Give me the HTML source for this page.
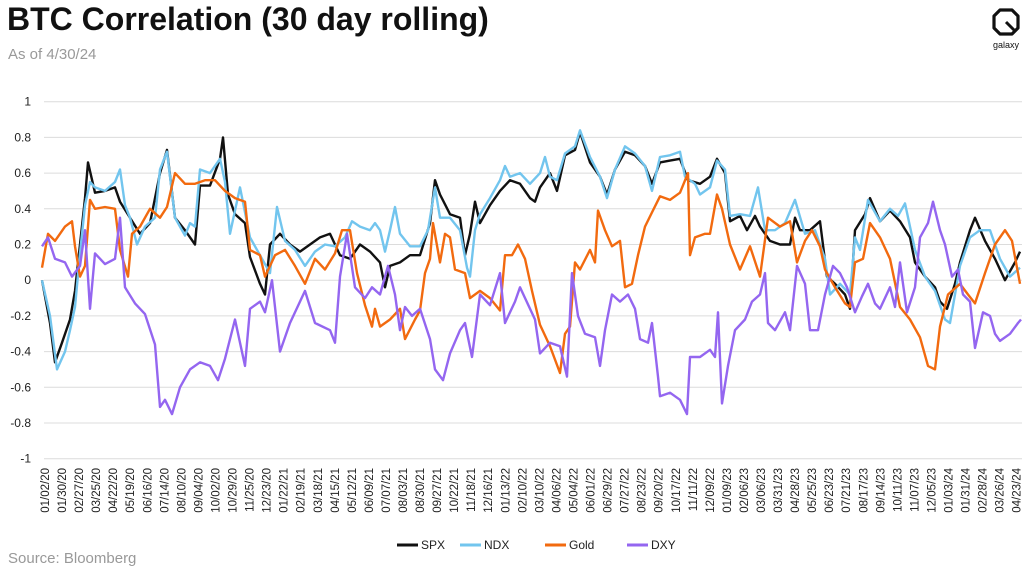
<!DOCTYPE html>
<html><head><meta charset="utf-8"><style>
body{margin:0;background:#fff;width:1024px;height:574px;overflow:hidden;font-family:"Liberation Sans",Arial,sans-serif}
#title{position:absolute;left:7px;top:1px;font-size:32px;font-weight:bold;color:#111;letter-spacing:0px}
#sub{position:absolute;left:8px;top:46px;font-size:15px;color:#999}
#src{position:absolute;left:8px;top:550px;font-size:15px;color:#999}
#logo{position:absolute;left:990px;top:6px;width:32px;height:48px}
svg text{font-family:"Liberation Sans",Arial,sans-serif}
</style></head><body>
<div id="title">BTC Correlation (30 day rolling)</div>
<div id="sub">As of 4/30/24</div>
<div id="src">Source: Bloomberg</div>
<svg id="logo" viewBox="0 0 32 48">
<path d="M10 4 H22 L28 10 V22 L22 28 H10 L4 22 V10 Z" fill="none" stroke="#111" stroke-width="3.2" stroke-linejoin="round"/>
<line x1="16" y1="16" x2="24" y2="24" stroke="#111" stroke-width="3"/>
<text x="16" y="42" font-size="9" text-anchor="middle" fill="#111">galaxy</text>
</svg>
<svg id="chart" width="1024" height="574" style="position:absolute;left:0;top:0"></svg>
<script>
const yTicks=[1,0.8,0.6,0.4,0.2,0,-0.2,-0.4,-0.6,-0.8,-1];
const xLabels=["01/02/20","01/30/20","02/27/20","03/25/20","04/22/20","05/19/20","06/16/20","07/14/20","08/10/20","09/04/20","10/02/20","10/29/20","11/25/20","12/23/20","01/22/21","02/19/21","03/18/21","04/15/21","05/12/21","06/09/21","07/07/21","08/03/21","08/30/21","09/27/21","10/22/21","11/18/21","12/16/21","01/13/22","02/10/22","03/10/22","04/06/22","05/04/22","06/01/22","06/29/22","07/27/22","08/23/22","09/20/22","10/17/22","11/11/22","12/09/22","01/09/23","02/06/23","03/06/23","03/31/23","04/28/23","05/25/23","06/23/23","07/21/23","08/17/23","09/14/23","10/11/23","11/07/23","12/05/23","01/03/24","01/31/24","02/28/24","03/26/24","04/23/24"];
// [observation index (0..980), correlation]
const spxData=[[0,0],[8,-.24],[13,-.46],[20,-.35],[28,-.22],[33,-.06],[38,.2],[43,.46],[46,.66],[53,.49],[63,.5],[73,.52],[78,.44],[88,.35],[98,.26],[108,.32],[118,.6],[125,.73],[133,.35],[143,.28],[153,.2],[158,.53],[168,.53],[178,.68],[181,.8],[186,.48],[193,.37],[203,.32],[208,.13],[218,-.02],[223,-.08],[228,.2],[238,.26],[248,.2],[258,.16],[268,.2],[278,.24],[288,.26],[298,.14],[308,.12],[318,.2],[328,.16],[338,.1],[343,-.04],[348,.08],[358,.1],[368,.14],[378,.14],[388,.32],[393,.56],[398,.48],[408,.37],[418,.35],[423,.14],[428,.26],[433,.44],[438,.32],[448,.42],[458,.5],[468,.56],[478,.54],[488,.46],[493,.44],[498,.52],[508,.6],[515,.5],[523,.7],[533,.73],[538,.83],[548,.66],[558,.58],[565,.48],[573,.62],[583,.72],[593,.7],[603,.64],[610,.54],[618,.66],[628,.67],[638,.68],[646,.56],[658,.54],[668,.58],[675,.68],[683,.6],[688,.33],[698,.36],[705,.28],[713,.36],[718,.3],[728,.22],[738,.2],[748,.2],[753,.35],[758,.28],[768,.28],[778,.33],[785,.02],[793,-.02],[803,-.08],[808,-.16],[813,.28],[823,.37],[828,.46],[838,.33],[848,.39],[858,.33],[868,.24],[873,.1],[883,.02],[893,-.04],[898,-.12],[905,-.16],[913,-.02],[918,.1],[928,.28],[933,.35],[943,.22],[953,.12],[963,0],[973,.1],[978,.16]];
const ndxData=[[0,0],[8,-.2],[15,-.5],[23,-.4],[28,-.28],[33,-.15],[38,.15],[43,.42],[48,.55],[53,.52],[63,.5],[73,.55],[78,.62],[83,.42],[88,.35],[95,.2],[103,.3],[113,.35],[118,.62],[125,.72],[133,.35],[138,.3],[143,.25],[148,.32],[153,.3],[158,.62],[168,.6],[178,.68],[183,.55],[188,.26],[198,.52],[208,.24],[218,.14],[228,.04],[235,.41],[243,.22],[253,.17],[263,.08],[273,.16],[283,.2],[293,.19],[303,.24],[310,.33],[318,.3],[328,.28],[333,.32],[338,.28],[343,.16],[348,.28],[353,.41],[358,.26],[368,.19],[378,.19],[386,.28],[393,.52],[398,.35],[408,.35],[418,.28],[425,.07],[428,.02],[433,.28],[438,.37],[448,.46],[458,.56],[463,.64],[468,.58],[478,.6],[488,.54],[498,.6],[503,.69],[508,.58],[515,.56],[523,.71],[533,.75],[538,.84],[548,.69],[558,.58],[565,.46],[573,.62],[583,.75],[593,.71],[603,.64],[610,.5],[618,.69],[628,.7],[638,.72],[643,.58],[653,.54],[658,.48],[668,.52],[675,.67],[683,.62],[688,.36],[698,.37],[708,.36],[716,.52],[723,.28],[733,.28],[743,.32],[753,.45],[763,.26],[773,.28],[783,.12],[788,-.08],[798,-.02],[808,-.08],[813,.24],[818,.17],[826,.45],[838,.33],[848,.4],[856,.36],[863,.43],[873,.17],[883,.02],[893,-.06],[903,-.22],[908,-.24],[918,.08],[928,.24],[938,.28],[948,.28],[958,.12],[968,.02],[978,.07]];
const goldData=[[0,.07],[6,.26],[13,.22],[23,.3],[30,.33],[33,.19],[38,.02],[43,.08],[48,.45],[53,.4],[63,.41],[73,.4],[78,.17],[86,.02],[90,.26],[98,.3],[108,.4],[118,.35],[125,.41],[133,.6],[143,.54],[153,.54],[163,.56],[173,.56],[183,.5],[193,.46],[203,.44],[208,.17],[218,.14],[223,.02],[233,.14],[243,.17],[253,.08],[263,-.02],[273,.12],[283,.06],[293,.15],[300,.28],[308,.28],[315,.04],[323,-.14],[330,-.26],[333,-.16],[338,-.26],[348,-.22],[358,-.16],[363,-.33],[373,-.22],[378,-.17],[383,.04],[388,.12],[391,.32],[398,.1],[403,.26],[408,.24],[413,.06],[423,.04],[428,-.1],[438,-.06],[448,-.1],[458,-.17],[463,.14],[470,.14],[476,.2],[483,.12],[490,-.06],[498,-.25],[508,-.37],[518,-.52],[523,-.3],[528,-.26],[533,.1],[538,.06],[548,.17],[553,.1],[556,.39],[563,.28],[570,.19],[578,.22],[583,-.04],[590,-.02],[596,.14],[603,.3],[610,.38],[618,.47],[628,.45],[638,.49],[646,.6],[648,.14],[653,.24],[663,.26],[668,.26],[675,.48],[680,.4],[688,.2],[698,.06],[708,.19],[718,.02],[726,.35],[738,.3],[748,.33],[755,.1],[763,.22],[770,.28],[778,.19],[783,.06],[793,-.04],[803,-.13],[808,-.15],[813,.1],[821,.12],[828,.32],[838,.24],[848,.12],[858,-.15],[868,-.22],[878,-.32],[886,-.48],[893,-.5],[898,-.26],[906,-.08],[918,-.02],[926,-.08],[933,-.13],[943,.04],[953,.2],[963,.28],[970,.22],[978,-.02]];
const dxyData=[[0,.19],[6,.24],[13,.12],[23,.1],[30,.02],[38,.08],[43,.28],[48,-.16],[53,.15],[63,.09],[73,.12],[78,.35],[83,-.04],[93,-.13],[103,-.19],[113,-.36],[118,-.71],[123,-.67],[130,-.75],[138,-.6],[148,-.5],[158,-.46],[168,-.48],[176,-.56],[183,-.44],[193,-.22],[203,-.48],[208,-.16],[218,-.12],[223,-.18],[230,0],[238,-.4],[248,-.24],[263,-.06],[273,-.24],[288,-.28],[293,-.35],[298,.02],[305,.26],[313,-.04],[323,-.1],[330,-.04],[338,-.08],[346,.08],[353,-.08],[358,-.28],[363,-.15],[370,-.2],[378,-.16],[388,-.33],[393,-.5],[401,-.56],[408,-.41],[418,-.28],[423,-.24],[430,-.43],[438,-.08],[448,-.14],[458,.04],[463,-.24],[473,-.12],[478,-.04],[488,-.16],[493,-.22],[498,-.41],[508,-.35],[518,-.37],[525,-.54],[530,.04],[536,-.2],[543,-.3],[553,-.32],[558,-.48],[563,-.28],[570,-.08],[578,-.12],[586,-.08],[593,-.16],[598,-.33],[606,-.35],[610,-.24],[616,-.54],[618,-.65],[628,-.63],[638,-.67],[645,-.75],[648,-.43],[658,-.43],[668,-.39],[673,-.43],[676,-.18],[680,-.69],[686,-.48],[693,-.28],[703,-.22],[710,-.12],[718,-.08],[723,.04],[726,-.24],[733,-.28],[743,-.18],[748,-.28],[755,.08],[763,-.02],[768,-.28],[776,-.28],[783,-.08],[791,.08],[798,.04],[805,-.04],[813,-.18],[820,-.09],[826,-.02],[833,-.13],[838,-.16],[848,-.04],[853,-.15],[858,.1],[865,-.18],[873,-.04],[878,.24],[886,.32],[891,.44],[898,.28],[903,.2],[910,.02],[916,.06],[921,-.08],[928,-.12],[933,-.38],[941,-.18],[948,-.2],[953,-.3],[958,-.34],[968,-.3],[976,-.24],[979,-.22]];
const NS='http://www.w3.org/2000/svg';
const svg=document.getElementById('chart');
const X0=42,X1=1022,Y1=101.7,Ym1=458.7;
const xs=o=>X0+(o/980)*(X1-X0);
const ys=v=>Y1+(1-v)/2*(Ym1-Y1);
function mk(tag,attrs,parent){const e=document.createElementNS(NS,tag);for(const k in attrs)e.setAttribute(k,attrs[k]);(parent||svg).appendChild(e);return e;}
yTicks.forEach(v=>{
  const l=mk('line',{x1:44,x2:1022,y1:ys(v),y2:ys(v),stroke:'#dcdcdc','stroke-width':1});
  
  
  const t=mk('text',{x:31,y:ys(v)+4,'text-anchor':'end','font-size':12,fill:'#222'});
  t.textContent=String(v);
  
  
});
xLabels.forEach((s,i)=>{
  const x=45+i*(1016.7-45)/(xLabels.length-1);
  const t=mk('text',{x:0,y:0,'text-anchor':'end','font-size':11.5,fill:'#222',transform:`translate(${x+4},468) rotate(-90)`});
  t.textContent=s;
  
  
});
const series=[["spx",spxData,"#111111"],["ndx",ndxData,"#72C5EE"],["gold",goldData,"#F26A0F"],["dxy",dxyData,"#9466F0"]];
series.forEach(([n,data,c])=>{
  const d=data.map((p,i)=>(i?'L':'M')+xs(p[0]).toFixed(1)+' '+ys(p[1]).toFixed(1)).join(' ');
  const p=mk('path',{d:d,fill:'none',stroke:c,'stroke-width':2.4,'stroke-linejoin':'round'});
  
  
});
const legend=[["SPX","#111111",397],["NDX","#72C5EE",460],["Gold","#F26A0F",545],["DXY","#9466F0",627]];
legend.forEach(([n,c,x])=>{
  const g=mk('g',{});
  
  
  mk('line',{x1:x,x2:x+21,y1:545,y2:545,stroke:c,'stroke-width':3},g);
  const t=mk('text',{x:x+24,y:549,'font-size':12,fill:'#222'},g);
  t.textContent=n;
});
</script>
</body></html>
